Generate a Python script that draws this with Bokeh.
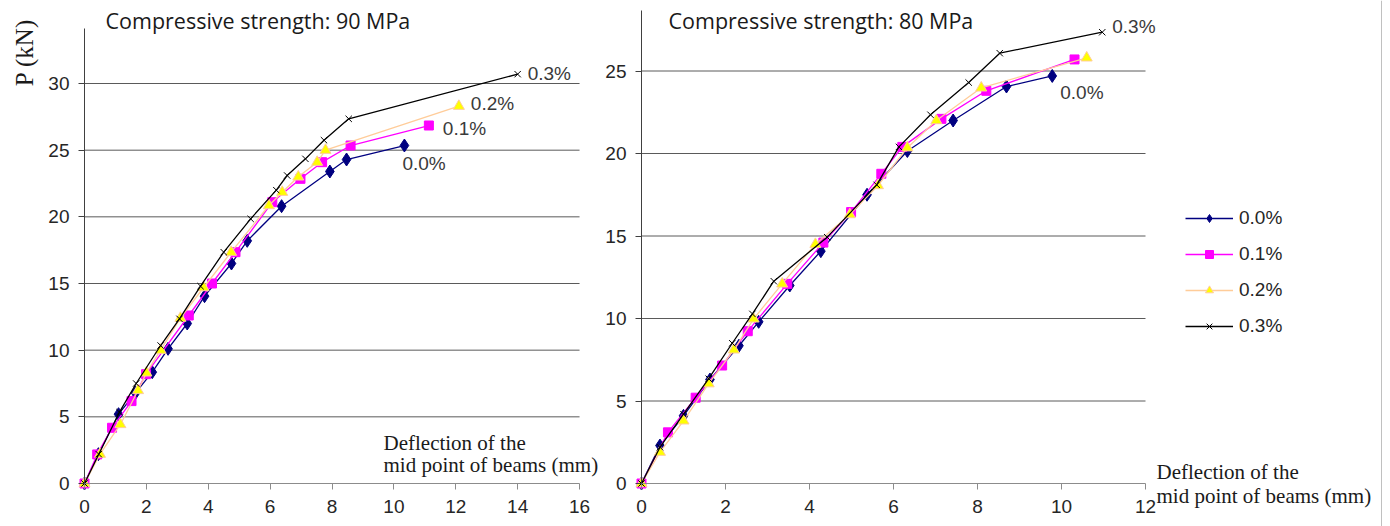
from bokeh.plotting import figure
from bokeh.layouts import row
from bokeh.models import (Range1d, FixedTicker, Label, Span, Legend, LegendItem,
                          LinearAxis)
from bokeh.embed import file_html
from bokeh.resources import INLINE

# ---- Load (kN) vs. mid-span deflection (mm), compressive strength 90 MPa ----
x90_00 = [0, 0.45, 1.1, 1.65, 2.19, 2.7, 3.32, 3.88, 4.75, 5.26, 6.37, 7.93, 8.47, 10.34]
p90_00 = [0, 2.2, 5.2, 6.8, 8.35, 10.1, 12.0, 14.05, 16.5, 18.2, 20.8, 23.4, 24.3, 25.35]
x90_01 = [0, 0.41, 0.89, 1.52, 1.99, 3.37, 4.12, 4.88, 6.07, 6.98, 7.68, 8.6, 11.13]
p90_01 = [0, 2.18, 4.18, 6.18, 8.2, 12.6, 15.0, 17.35, 21.1, 22.85, 24.1, 25.35, 26.85]
x90_02 = [0, 0.5, 1.16, 1.73, 2.0, 2.46, 3.1, 3.85, 4.74, 5.96, 6.39, 6.91, 7.52, 7.79, 12.1]
p90_02 = [0, 2.2, 4.43, 6.98, 8.3, 10.0, 12.4, 14.7, 17.35, 20.85, 21.85, 23.0, 24.1, 25.0, 28.3]
x90_03 = [0, 0.46, 1.13, 1.67, 2.46, 3.07, 3.75, 4.5, 5.37, 6.2, 6.55, 7.14, 7.74, 8.54, 14.0]
p90_03 = [0, 2.2, 5.35, 7.5, 10.35, 12.35, 14.8, 17.35, 19.85, 22.0, 23.1, 24.35, 25.75, 27.35, 30.7]

# ---- Load (kN) vs. mid-span deflection (mm), compressive strength 80 MPa ----
x80_00 = [0, 0.44, 1.0, 1.63, 2.32, 2.79, 3.53, 4.27, 5.37, 6.33, 7.42, 8.69, 9.78]
p80_00 = [0, 2.3, 4.1, 6.3, 8.35, 9.8, 12.0, 14.08, 17.5, 20.15, 22.0, 24.06, 24.7]
x80_01 = [0, 0.63, 1.29, 1.92, 2.53, 3.47, 4.33, 4.99, 5.71, 6.21, 7.14, 8.21, 10.31]
p80_01 = [0, 3.1, 5.2, 7.15, 9.23, 12.1, 14.6, 16.45, 18.77, 20.4, 22.1, 23.8, 25.7]
x80_02 = [0, 0.44, 1.0, 1.6, 2.2, 2.67, 3.35, 4.14, 4.96, 5.63, 6.33, 7.02, 8.09, 10.6]
p80_02 = [0, 1.9, 3.8, 6.05, 8.1, 9.98, 12.1, 14.5, 16.3, 18.06, 20.35, 22.0, 23.98, 25.8]
x80_03 = [0, 0.44, 1.0, 1.6, 2.16, 2.64, 3.15, 4.42, 5.6, 6.13, 6.88, 7.79, 8.53, 10.97]
p80_03 = [0, 2.2, 4.2, 6.35, 8.5, 10.28, 12.26, 14.93, 18.1, 20.4, 22.35, 24.3, 26.08, 27.35]

series_labels = ["0.0%", "0.1%", "0.2%", "0.3%"]
x90_ticks = [0, 2, 4, 6, 8, 10, 12, 14, 16]
y90_ticks = [0, 5, 10, 15, 20, 25, 30]
x80_ticks = [0, 2, 4, 6, 8, 10, 12]
y80_ticks = [0, 5, 10, 15, 20, 25]

# series styles: line colour, marker, marker fill, marker outline, marker size
STYLES = [
    dict(line="#000080", marker="diamond", fill="#000080", outline="#000080", size=13),
    dict(line="#FF00FF", marker="square", fill="#FF00FF", outline="#FF00FF", size=9),
    dict(line="#FFCC99", marker="triangle", fill="#FFFF00", outline="#FFCC99", size=11),
    dict(line="#000000", marker="x", fill="#000000", outline="#000000", size=9),
]

TICK_FONT = "Liberation Sans"
SERIF = "Liberation Serif"
TITLE_FONT = "Open Sans"
H = 526
AXIS_Y_PX = 483          # vertical pixel position of the load = 0 line


def make_panel(width, origin_px, px_per_x, px_per_y, x_axis_max, y_axis_max, xticks, yticks):
    """A full-bleed panel whose axes are pinned at x = 0 and y = 0."""
    x_start = -origin_px / px_per_x
    x_end = (width - origin_px) / px_per_x
    y_start = -(H - AXIS_Y_PX) / px_per_y
    y_end = AXIS_Y_PX / px_per_y
    p = figure(width=width, height=H, output_backend="svg", toolbar_location=None,
               x_range=Range1d(x_start, x_end), y_range=Range1d(y_start, y_end),
               x_axis_location=None, y_axis_location=None,
               min_border_left=0, min_border_right=0,
               min_border_top=0, min_border_bottom=0)
    p.outline_line_color = None
    p.xgrid.visible = False
    p.ygrid.visible = False

    xa = LinearAxis(fixed_location=0, ticker=FixedTicker(ticks=xticks), bounds=(0, x_axis_max))
    ya = LinearAxis(fixed_location=0, ticker=FixedTicker(ticks=yticks), bounds=(0, y_axis_max))
    for ax in (xa, ya):
        ax.minor_tick_line_color = None
        ax.major_tick_in = 0
        ax.major_tick_out = 6
        ax.major_label_text_font = TICK_FONT
        ax.major_label_text_font_size = "19px"
        ax.major_label_text_color = "#262626"
    xa.axis_line_color = "#8c8c8c"
    xa.major_tick_line_color = "#8c8c8c"
    xa.major_label_standoff = 10
    ya.axis_line_color = "#404040"
    ya.major_tick_line_color = "#404040"
    ya.major_label_standoff = 9
    p.add_layout(xa, "below")
    p.add_layout(ya, "left")

    # horizontal gridlines spanning only the plotted deflection range
    gy = [t for t in yticks if t > 0]
    p.segment(x0=[0] * len(gy), x1=[x_axis_max] * len(gy), y0=gy, y1=gy,
              line_color="#5a5a5a", line_width=1)
    return p


def draw_series(p, xs, ys, st):
    lr = p.line(xs, ys, line_color=st["line"], line_width=1.3)
    sr = p.scatter(xs, ys, marker=st["marker"], size=st["size"],
                   fill_color=st["fill"], line_color=st["outline"], line_width=1)
    return lr, sr


def text_label(p, x, y, text, font, size, **kw):
    p.add_layout(Label(x=x, y=y, text=text, text_font=font, text_font_size=size,
                       text_color=kw.pop("color", "#1a1a1a"),
                       text_baseline="middle", text_align=kw.pop("align", "left"), **kw))


def end_label(p, xs, ys, text, dx, dy):
    text_label(p, xs[-1], ys[-1], text, TICK_FONT, "19px", color="#3a3a3a",
               x_offset=dx, y_offset=dy)


# ---------------- left panel: 90 MPa ----------------
SX1, SY1 = 30.94, 13.333
p1 = make_panel(600, 84, SX1, SY1, 16, 34.1, x90_ticks, y90_ticks)
for xs, ys, st in zip([x90_00, x90_01, x90_02, x90_03],
                      [p90_00, p90_01, p90_02, p90_03], STYLES):
    draw_series(p1, xs, ys, st)

end_label(p1, x90_03, p90_03, "0.3%", 10, 1)
end_label(p1, x90_02, p90_02, "0.2%", 12, 3)
end_label(p1, x90_01, p90_01, "0.1%", 14, -3)
end_label(p1, x90_00, p90_00, "0.0%", -2, -18)

text_label(p1, 21 / SX1, (AXIS_Y_PX - 20) / SY1, "Compressive strength: 90 MPa", TITLE_FONT, "21.5px")
text_label(p1, -60 / SX1, (AXIS_Y_PX - 52) / SY1, "P (kN)", SERIF, "25px",
           angle=1.5708, align="center")
text_label(p1, 299 / SX1, (AXIS_Y_PX - 442) / SY1, "Deflection of the", SERIF, "21px")
text_label(p1, 299 / SX1, (AXIS_Y_PX - 464) / SY1, "mid point of beams (mm)", SERIF, "21px")

# ---------------- right panel: 80 MPa ----------------
SX2, SY2 = 42.0, 16.5
p2 = make_panel(790, 41, SX2, SY2, 12, 28.67, x80_ticks, y80_ticks)
items = []
for xs, ys, st, lab in zip([x80_00, x80_01, x80_02, x80_03],
                           [p80_00, p80_01, p80_02, p80_03], STYLES, series_labels):
    lr, sr = draw_series(p2, xs, ys, st)
    items.append(LegendItem(label=lab, renderers=[lr, sr]))

end_label(p2, x80_03, p80_03, "0.3%", 10, 6)
end_label(p2, x80_00, p80_00, "0.0%", 8, -17)

text_label(p2, 27 / SX2, (AXIS_Y_PX - 20) / SY2, "Compressive strength: 80 MPa", TITLE_FONT, "21.5px")
text_label(p2, 515 / SX2, (AXIS_Y_PX - 471) / SY2, "Deflection of the", SERIF, "21px")
text_label(p2, 515 / SX2, (AXIS_Y_PX - 495) / SY2, "mid point of beams (mm)", SERIF, "21px")
p2.add_layout(Span(location=740 / SX2, dimension="height",
                   line_color="#c0c0c0", line_width=1))

legend = Legend(items=items, location=(585, 189), orientation="vertical",
                glyph_width=48, glyph_height=20, label_height=20, spacing=14,
                padding=0, margin=0, label_standoff=6,
                border_line_alpha=0, background_fill_alpha=0,
                label_text_font=TICK_FONT, label_text_font_size="19px",
                label_text_color="#262626")
p2.add_layout(legend)

layout = row(p1, p2)
open("out.html", "w").write(file_html(layout, INLINE))
